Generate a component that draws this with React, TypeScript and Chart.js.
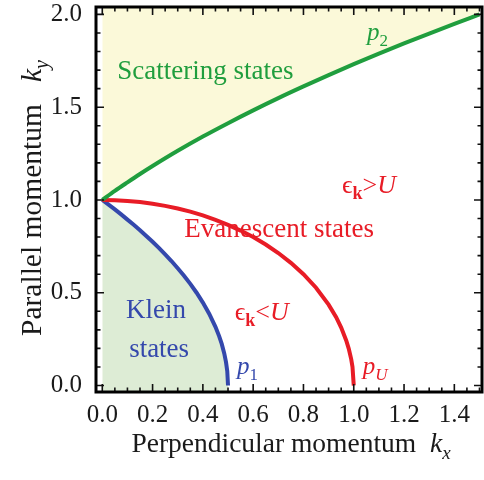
import React, { useEffect, useRef } from 'react';
import { Chart, registerables } from 'chart.js';

Chart.register(...registerables);

// Tick labels
const xTickValues = [0, 0.2, 0.4, 0.6, 0.8, 1.0, 1.2, 1.4];
const yTickValues = [0, 0.5, 1.0, 1.5, 2.0];

// p2 boundary (scattering states above it)
const p2Kx = [0, 0.05, 0.1, 0.15, 0.2, 0.3, 0.4, 0.5, 0.6, 0.7, 0.8, 0.9, 1.0, 1.1, 1.2, 1.3, 1.4, 1.5];
const p2Ky = [1.0, 1.049, 1.095, 1.14, 1.183, 1.265, 1.342, 1.414, 1.483, 1.549, 1.612, 1.673, 1.732, 1.789, 1.844, 1.897, 1.949, 2.0];

// pU boundary (eps_k = U)
const pUKx = [0, 0.05, 0.1, 0.15, 0.2, 0.25, 0.3, 0.35, 0.4, 0.45, 0.5, 0.55, 0.6, 0.65, 0.7, 0.75, 0.8, 0.85, 0.9, 0.93, 0.95, 0.97, 0.98, 0.99, 0.995, 1.0];
const pUKy = [1.0, 0.999, 0.995, 0.989, 0.98, 0.968, 0.954, 0.937, 0.917, 0.893, 0.866, 0.835, 0.8, 0.76, 0.714, 0.661, 0.6, 0.527, 0.436, 0.368, 0.312, 0.243, 0.199, 0.141, 0.1, 0.0];

// p1 boundary (Klein states below it)
const p1Kx = [0, 0.025, 0.05, 0.075, 0.1, 0.125, 0.15, 0.175, 0.2, 0.225, 0.25, 0.275, 0.3, 0.325, 0.35, 0.375, 0.4, 0.425, 0.45, 0.465, 0.475, 0.485, 0.492, 0.497, 0.5];
const p1Ky = [1.0, 0.975, 0.949, 0.922, 0.894, 0.866, 0.837, 0.806, 0.775, 0.742, 0.707, 0.671, 0.632, 0.592, 0.548, 0.5, 0.447, 0.387, 0.316, 0.265, 0.224, 0.173, 0.126, 0.077, 0.0];

const GREEN = 'rgb(32,158,62)';
const RED = 'rgb(232,28,38)';
const BLUE = 'rgb(52,72,172)';
const CREAM = 'rgb(251,249,217)';
const MINT = 'rgb(221,236,213)';
const FAM = '"Liberation Serif", "Times New Roman", "DejaVu Serif", serif';

type Seg = { t: string; it?: boolean; b?: boolean; sub?: boolean };

function drawRich(
  ctx: CanvasRenderingContext2D,
  segs: Seg[],
  x: number,
  y: number,
  size: number,
  color: string,
  align: 'left' | 'center'
) {
  const fontOf = (s: Seg) =>
    `${s.it ? 'italic ' : ''}${s.b ? 'bold ' : ''}${s.sub ? Math.round(size * 0.68) : size}px ${FAM}`;
  const widths = segs.map((s) => {
    ctx.font = fontOf(s);
    return ctx.measureText(s.t).width;
  });
  const total = widths.reduce((a, b) => a + b, 0);
  let cx = align === 'center' ? x - total / 2 : x;
  ctx.fillStyle = color;
  ctx.textBaseline = 'alphabetic';
  ctx.textAlign = 'left';
  segs.forEach((s, i) => {
    ctx.font = fontOf(s);
    ctx.fillText(s.t, cx, s.sub ? y + size * 0.24 : y);
    cx += widths[i];
  });
}

const pts = (xs: number[], ys: number[]) => xs.map((x, i) => ({ x, y: ys[i] }));

const decorPlugin = {
  id: 'decor',
  afterDraw(chart: any) {
    const ctx: CanvasRenderingContext2D = chart.ctx;
    const xs = chart.scales.x;
    const ys = chart.scales.y;
    const a = chart.chartArea;
    ctx.save();
    // inward ticks
    ctx.strokeStyle = '#111';
    ctx.lineWidth = 1.6;
    for (let i = 0; i <= 30; i++) {
      const v = i * 0.05;
      const px = xs.getPixelForValue(v);
      const len = i % 4 === 0 ? 8 : 4.5;
      ctx.beginPath();
      ctx.moveTo(px, a.bottom);
      ctx.lineTo(px, a.bottom - len);
      ctx.moveTo(px, a.top);
      ctx.lineTo(px, a.top + len);
      ctx.stroke();
    }
    for (let i = 0; i <= 20; i++) {
      const v = i * 0.1;
      const py = ys.getPixelForValue(v);
      const len = i % 5 === 0 ? 8 : 4.5;
      ctx.beginPath();
      ctx.moveTo(a.left, py);
      ctx.lineTo(a.left + len, py);
      ctx.moveTo(a.right, py);
      ctx.lineTo(a.right - len, py);
      ctx.stroke();
    }
    // frame
    ctx.lineWidth = 3;
    ctx.strokeStyle = '#000';
    ctx.strokeRect(a.left, a.top, a.right - a.left, a.bottom - a.top);

    const X = (v: number) => xs.getPixelForValue(v);
    const Y = (v: number) => ys.getPixelForValue(v);

    // region labels
    drawRich(ctx, [{ t: 'Scattering states' }], X(0.41), Y(1.652), 27, GREEN, 'center');
    drawRich(ctx, [{ t: 'p', it: true }, { t: '2', sub: true }], X(1.053), Y(1.86), 25, GREEN, 'left');
    drawRich(
      ctx,
      [{ t: 'ϵ' }, { t: 'k', b: true, sub: true }, { t: '>' }, { t: 'U', it: true }],
      X(0.953),
      Y(1.038),
      26,
      RED,
      'left'
    );
    drawRich(ctx, [{ t: 'Evanescent states' }], X(0.703), Y(0.801), 27, RED, 'center');
    drawRich(
      ctx,
      [{ t: 'ϵ' }, { t: 'k', b: true, sub: true }, { t: '<' }, { t: 'U', it: true }],
      X(0.527),
      Y(0.353),
      26,
      RED,
      'left'
    );
    drawRich(ctx, [{ t: 'Klein' }], X(0.214), Y(0.364), 27, BLUE, 'center');
    drawRich(ctx, [{ t: 'states' }], X(0.226), Y(0.154), 27, BLUE, 'center');
    drawRich(ctx, [{ t: 'p', it: true }, { t: '1', sub: true }], X(0.536), Y(0.06), 25, BLUE, 'left');
    drawRich(ctx, [{ t: 'p', it: true }, { t: 'U', it: true, sub: true }], X(1.036), Y(0.06), 25, RED, 'left');

    // axis titles
    drawRich(
      ctx,
      [{ t: 'Perpendicular momentum  ' }, { t: 'k', it: true }, { t: 'x', it: true, sub: true }],
      291,
      452,
      27.5,
      '#1a1a1a',
      'center'
    );
    ctx.save();
    ctx.translate(41, 198);
    ctx.rotate(-Math.PI / 2);
    drawRich(
      ctx,
      [{ t: 'Parallel momentum   ' }, { t: 'k', it: true }, { t: 'y', it: true, sub: true }],
      0,
      0,
      29.5,
      '#1a1a1a',
      'center'
    );
    ctx.restore();
    ctx.restore();
  },
};

export default function App() {
  const ref = useRef<HTMLCanvasElement | null>(null);
  useEffect(() => {
    if (!ref.current) return;
    const chart = new Chart(ref.current, {
      type: 'line',
      data: {
        datasets: [
          {
            label: 'p2',
            data: pts(p2Kx, p2Ky),
            borderColor: GREEN,
            backgroundColor: CREAM,
            borderWidth: 4,
            pointRadius: 0,
            fill: 'end',
            cubicInterpolationMode: 'monotone',
          },
          {
            label: 'pU',
            data: pts(pUKx, pUKy),
            borderColor: RED,
            borderWidth: 4,
            pointRadius: 0,
            fill: false,
            tension: 0,
          },
          {
            label: 'p1',
            data: pts(p1Kx, p1Ky),
            borderColor: BLUE,
            backgroundColor: MINT,
            borderWidth: 4,
            pointRadius: 0,
            fill: 'start',
            tension: 0,
          },
        ],
      },
      options: {
        animation: false,
        responsive: false,
        events: [],
        layout: { padding: { top: 7, right: 2, left: 0, bottom: 0 } },
        plugins: { legend: { display: false }, tooltip: { enabled: false } },
        scales: {
          x: {
            type: 'linear',
            min: -0.025,
            max: 1.51,
            grid: { display: false, drawTicks: false },
            border: { display: false },
            afterBuildTicks: (s: any) => {
              s.ticks = xTickValues.map((v) => ({ value: v }));
            },
            afterFit: (s: any) => {
              s.height = 88;
              s.paddingLeft = 0;
              s.paddingRight = 0;
            },
            ticks: {
              padding: 8,
              color: '#1a1a1a',
              maxRotation: 0,
              autoSkip: false,
              font: { family: FAM, size: 25 },
              callback: (v: any) => Number(v).toFixed(1),
            },
          },
          y: {
            type: 'linear',
            min: -0.035,
            max: 2.04,
            grid: { display: false, drawTicks: false },
            border: { display: false },
            afterBuildTicks: (s: any) => {
              s.ticks = yTickValues.map((v) => ({ value: v }));
            },
            afterFit: (s: any) => {
              s.width = 96;
              s.paddingTop = 0;
              s.paddingBottom = 0;
            },
            ticks: {
              padding: 14,
              color: '#1a1a1a',
              autoSkip: false,
              font: { family: FAM, size: 25 },
              callback: (v: any) => Number(v).toFixed(1),
            },
          },
        },
      },
      plugins: [decorPlugin],
    } as any);
    return () => chart.destroy();
  }, []);
  return (
    <div style={{ position: 'fixed', left: 0, top: 0, width: 484, height: 480, background: '#fff' }}>
      <canvas ref={ref} width={484} height={480} style={{ width: 484, height: 480, display: 'block' }} />
    </div>
  );
}
